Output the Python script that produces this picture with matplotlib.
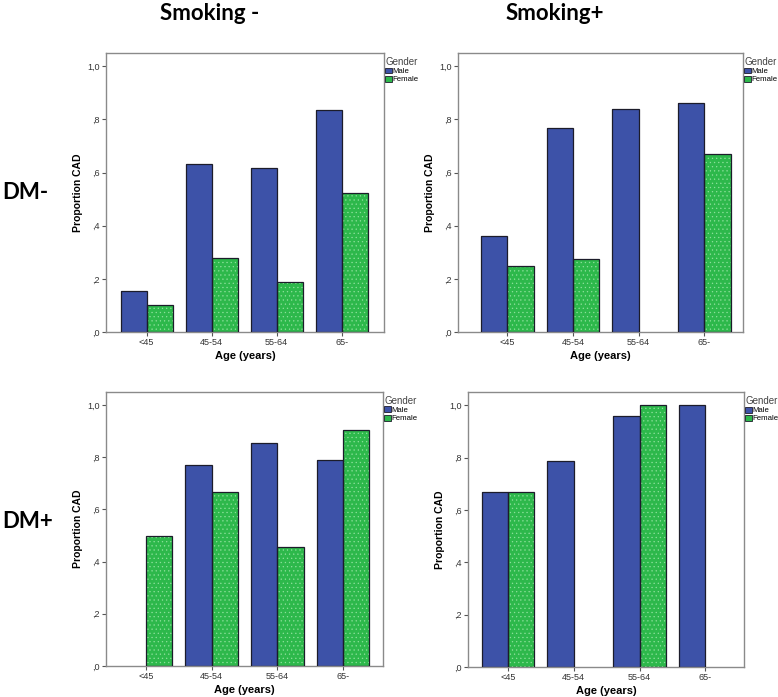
import numpy as np
import matplotlib
matplotlib.use("Agg")
import matplotlib.pyplot as plt

ages = ["<45", "45-54", "55-64", "65-"]

# proportion CAD per panel, None = no bar
dm_neg_smk_neg_male = [0.156, 0.633, 0.618, 0.835]
dm_neg_smk_neg_female = [0.10, 0.279, 0.189, 0.523]
dm_neg_smk_pos_male = [0.36, 0.766, 0.84, 0.862]
dm_neg_smk_pos_female = [0.25, 0.273, None, 0.668]
dm_pos_smk_neg_male = [None, 0.77, 0.853, 0.789]
dm_pos_smk_neg_female = [0.50, 0.667, 0.455, 0.905]
dm_pos_smk_pos_male = [0.667, 0.786, 0.96, 1.0]
dm_pos_smk_pos_female = [0.667, None, 1.0, None]

yticks = [0, 0.2, 0.4, 0.6, 0.8, 1.0]
ytick_labels = [",0", ",2", ",4", ",6", ",8", "1,0"]

male_col = "#3d52a8"
female_col = "#2db84b"
edge_col = "#1c1c2a"

plt.rcParams['font.family'] = ['Liberation Sans', 'DejaVu Sans']

fig = plt.figure(figsize=(7.78, 6.97), dpi=100)

panels = [
    ([0.1362, 0.5237, 0.3573, 0.4003], dm_neg_smk_neg_male, dm_neg_smk_neg_female, (-0.626, 3.65)),
    ([0.5887, 0.5237, 0.3663, 0.4003], dm_neg_smk_pos_male, dm_neg_smk_pos_female, (-0.75, 3.59)),
    ([0.1362, 0.0445, 0.3560, 0.3931], dm_pos_smk_neg_male, dm_pos_smk_neg_female, (-0.61, 3.61)),
    ([0.6015, 0.0430, 0.3548, 0.3945], dm_pos_smk_pos_male, dm_pos_smk_pos_female, (-0.61, 3.59)),
]

w = 0.4


def draw_bars(ax, xs, vals, color, hatch):
    x = [xi for xi, v in zip(xs, vals) if v is not None]
    h = [v for v in vals if v is not None]
    ax.bar(x, h, width=w, color=color, edgecolor='none', linewidth=0, zorder=2)
    if hatch:
        ax.bar(x, h, width=w, fill=False, hatch=hatch, edgecolor='#8ee09c', linewidth=0, zorder=3)
    ax.bar(x, h, width=w, fill=False, edgecolor=edge_col, linewidth=0.9, zorder=4)


plt.rcParams['hatch.linewidth'] = 0.4

for rect, male, female, xl in panels:
    ax = fig.add_axes(rect)
    xs = np.arange(len(ages))
    draw_bars(ax, xs - w / 2, male, male_col, None)
    draw_bars(ax, xs + w / 2, female, female_col, '....')
    ax.set_xlim(*xl)
    ax.set_ylim(0, 1.05)
    ax.set_xticks(xs)
    ax.set_xticklabels(ages, fontsize=6.5, color='#333333')
    ax.set_yticks(yticks)
    ax.set_yticklabels(ytick_labels, fontsize=6.5, color='#333333')
    ax.tick_params(axis='both', length=3, width=0.8, color='#555555', pad=1.5)
    for s in ax.spines.values():
        s.set_color('#8a8a8a')
        s.set_linewidth(1.0)
    ax.set_ylabel("Proportion CAD", fontsize=7.5, fontweight='bold', labelpad=3)
    ax.set_xlabel("Age (years)", fontsize=8, fontweight='bold', labelpad=3)
    hm = plt.Rectangle((0, 0), 1, 1, facecolor=male_col, edgecolor=edge_col, linewidth=0.6)
    hf = plt.Rectangle((0, 0), 1, 1, facecolor=female_col, edgecolor=edge_col, linewidth=0.6)
    leg = ax.legend([hm, hf], ["Male", "Female"], title="Gender", loc='upper left',
                    bbox_to_anchor=(1.005, 0.985), frameon=False, fontsize=5.6,
                    title_fontsize=7, handlelength=0.8, handleheight=0.8,
                    handletextpad=0.15, labelspacing=0.05, borderaxespad=0, borderpad=0)
    leg._legend_box.align = 'left'
    plt.setp(leg.get_title(), color='#444444')

hdr = ['Lato', 'DejaVu Sans']
fig.text(0.27, 0.98, "Smoking -", fontsize=16, fontweight='bold', family=hdr, ha='center', va='center')
fig.text(0.713, 0.98, "Smoking+", fontsize=16, fontweight='bold', family=hdr, ha='center', va='center')
fig.text(0.003, 0.7245, "DM-", fontsize=16, fontweight='bold', family=hdr, ha='left', va='center')
fig.text(0.003, 0.2525, "DM+", fontsize=16, fontweight='bold', family=hdr, ha='left', va='center')

fig.savefig("out.png", dpi=100)
